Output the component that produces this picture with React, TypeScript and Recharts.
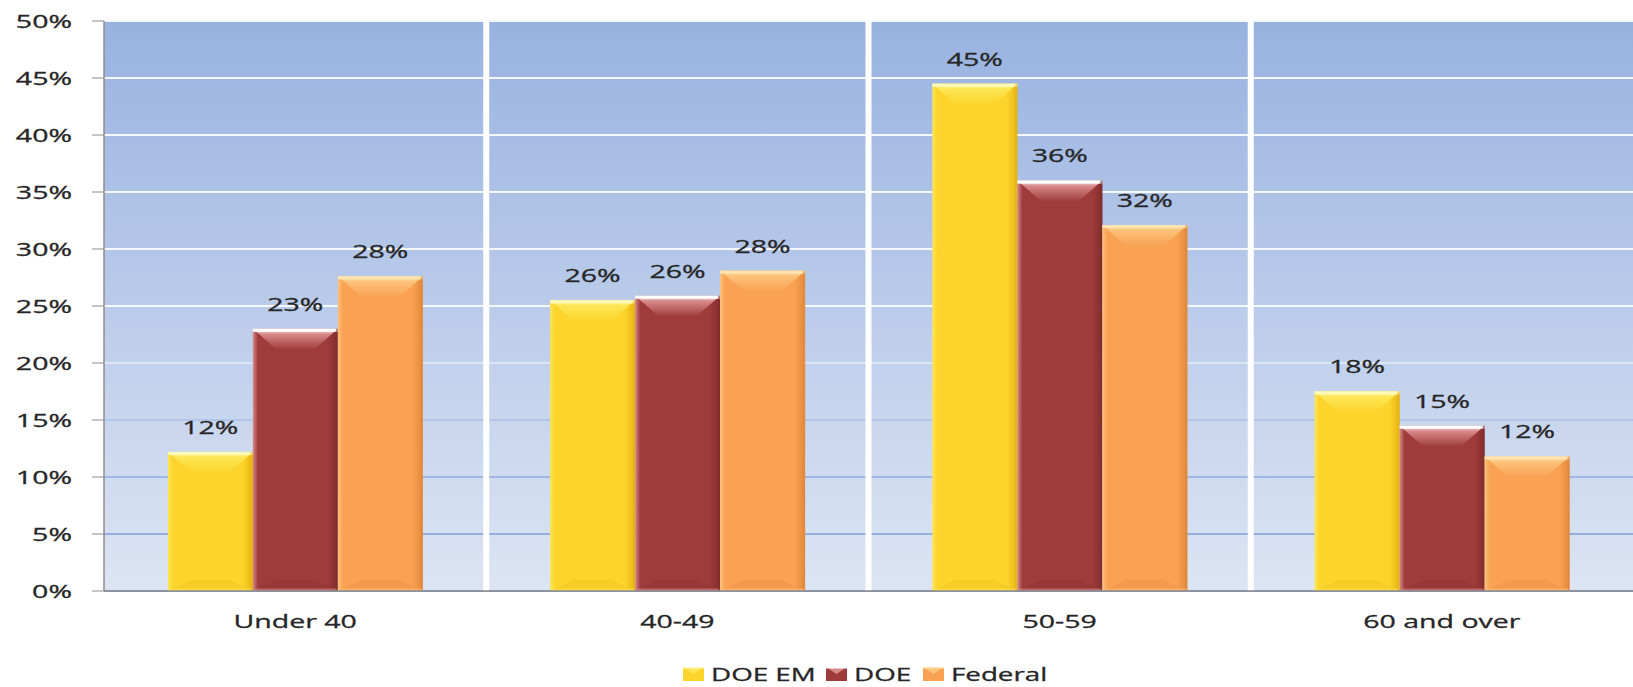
import React from "react";
import { BarChart, Bar, XAxis, YAxis, CartesianGrid, LabelList } from "recharts";

const categories = ["Under 40", "40-49", "50-59", "60 and over"];
const doeEm = [12.2, 25.5, 44.5, 17.5];
const doe = [23.0, 25.9, 36.0, 14.5];
const federal = [27.6, 28.1, 32.1, 11.8];
const yTicks = [0, 5, 10, 15, 20, 25, 30, 35, 40, 45, 50];
const seriesKeys = ["doeEm", "doe", "federal"];
const seriesNames = ["DOE EM", "DOE", "Federal"];

const data = categories.map((name, i) => ({
  name,
  doeEm: doeEm[i],
  doe: doe[i],
  federal: federal[i],
}));

const COLORS: Record<string, { body: string; light: string; mid: string; dark: string }> = {
  doeEm: { body: "#FCD42B", light: "#FFF9B8", mid: "#FDE655", dark: "#E6B412" },
  doe: { body: "#9E3B3B", light: "#FFFFFF", mid: "#D98A8A", dark: "#822D2D" },
  federal: { body: "#F9A253", light: "#FFE4B0", mid: "#FCC27A", dark: "#E2883A" },
};

const FONT = "'Open Sans', sans-serif";
const SX = 1.5; // the picture is stretched sideways
const AXIS = "#8c8c8c";
const TEXT = "#262626";
const W = 1633;
const H = 687;

function StretchText({ x, y, anchor, size = 19, children }: any) {
  return (
    <text
      transform={`translate(${x},${y}) scale(${SX},1)`}
      textAnchor={anchor}
      dy="0.36em"
      fontFamily={FONT}
      fontSize={size}
      fill={TEXT}
      stroke={TEXT}
      strokeWidth={0.3}
    >
      {children}
    </text>
  );
}

const YTick = ({ x, y, payload }: any) => (
  <StretchText x={x} y={y} anchor="end">
    {payload.value}%
  </StretchText>
);

const CatTick = ({ x, y, payload }: any) => (
  <StretchText x={x} y={y + 28} anchor="middle">
    {payload.value}
  </StretchText>
);

const ValueLabel = ({ x, y, width, value }: any) => (
  <StretchText x={x + width / 2} y={y - 25} anchor="middle">
    {Math.round(value)}%
  </StretchText>
);

const bevel = (key: string) => (props: any) => {
  const { x, y, width: w, height: h } = props;
  if (!h || h <= 0) return <g />;
  const c = COLORS[key];
  const bw = Math.min(w * 0.3, 24);
  const bh = Math.min(h / 2, 21);
  const bb = Math.min(h / 3, 11);
  return (
    <g>
      <rect x={x} y={y} width={w} height={h} fill={`url(#body-${key})`} />
      <polygon
        points={`${x},${y} ${x + w},${y} ${x + w - bw},${y + bh} ${x + bw},${y + bh}`}
        fill={`url(#top-${key})`}
      />
      <polygon
        points={`${x},${y + h} ${x + w},${y + h} ${x + w - bw},${y + h - bb} ${x + bw},${y + h - bb}`}
        fill={c.dark}
        opacity={0.25}
      />
      <rect x={x} y={y + h - 2.5} width={w} height={2.5} fill={c.mid} opacity={0.6} />
      <rect x={x} y={y} width={w} height={3} fill={c.light} />
      <rect x={x + w - 2} y={y} width={2} height={h} fill={c.dark} opacity={0.6} />
    </g>
  );
};

const LegendIcon = ({ x, y, k }: any) => {
  const c = COLORS[k];
  return (
    <g>
      <rect x={x} y={y - 7} width={21} height={14} fill={c.body} />
      <polygon points={`${x},${y - 7} ${x + 21},${y - 7} ${x + 10.5},${y}`} fill={c.mid} />
      <rect x={x} y={y - 7} width={21} height={1.5} fill={c.light} />
    </g>
  );
};

const legendX = [683, 826, 923];

export default function App() {
  const n = categories.length;
  return (
    <div style={{ position: "absolute", left: 0, top: 0, width: W, height: H, background: "#fff" }}>
      <BarChart
        width={W}
        height={H}
        data={data}
        margin={{ top: 21, right: 0, bottom: 0, left: 0 }}
        barCategoryGap="16.7%"
        barGap={0}
      >
        <defs>
          <linearGradient id="bgGrad" x1="0" y1="0" x2="0" y2="1">
            <stop offset="0%" stopColor="#98b2e0" />
            <stop offset="100%" stopColor="#dde5f4" />
          </linearGradient>
          <linearGradient id="gridGrad" gradientUnits="userSpaceOnUse" x1="0" y1="21" x2="0" y2="591">
            <stop offset="0%" stopColor="#f4f7fc" />
            <stop offset="55%" stopColor="#f4f7fc" />
            <stop offset="72%" stopColor="#a9bfe6" />
            <stop offset="100%" stopColor="#8aa5dc" />
          </linearGradient>
          {seriesKeys.map((k) => (
            <React.Fragment key={k}>
              <linearGradient id={`body-${k}`} x1="0" y1="0" x2="1" y2="0">
                <stop offset="0%" stopColor={COLORS[k].mid} />
                <stop offset="6%" stopColor={COLORS[k].body} />
                <stop offset="88%" stopColor={COLORS[k].body} />
                <stop offset="100%" stopColor={COLORS[k].dark} />
              </linearGradient>
              <linearGradient id={`top-${k}`} x1="0" y1="0" x2="0" y2="1">
                <stop offset="0%" stopColor={COLORS[k].light} />
                <stop offset="25%" stopColor={COLORS[k].mid} />
                <stop offset="100%" stopColor={COLORS[k].body} />
              </linearGradient>
            </React.Fragment>
          ))}
        </defs>
        <CartesianGrid
          vertical={false}
          stroke="url(#gridGrad)"
          strokeWidth={2}
          fill="url(#bgGrad)"
          fillOpacity={1}
        />
        <CartesianGrid
          horizontal={false}
          stroke="#ffffff"
          strokeWidth={6}
          verticalCoordinatesGenerator={({ offset }: any) =>
            categories.slice(1).map((_, i) => offset.left + (offset.width * (i + 1)) / n)
          }
        />
        <XAxis
          xAxisId={0}
          type="number"
          domain={[0, n]}
          ticks={[0, ...categories.map((_, i) => i + 1)]}
          tick={false}
          axisLine={false}
          tickLine={{ stroke: AXIS }}
          tickSize={8}
          height={0}
        />
        <XAxis
          xAxisId={1}
          dataKey="name"
          height={96}
          axisLine={{ stroke: AXIS, strokeWidth: 1.5 }}
          tickLine={false}
          tickSize={0}
          tick={<CatTick />}
          interval={0}
        />
        <YAxis
          domain={[0, 50]}
          ticks={yTicks}
          width={104}
          tickSize={12}
          tickMargin={20}
          interval={0}
          axisLine={{ stroke: AXIS, strokeWidth: 1.5 }}
          tickLine={{ stroke: AXIS }}
          tick={<YTick />}
        />
        {seriesKeys.map((k, i) => (
          <Bar
            key={k}
            xAxisId={1}
            dataKey={k}
            name={seriesNames[i]}
            fill={COLORS[k].body}
            shape={bevel(k)}
            isAnimationActive={false}
          >
            <LabelList dataKey={k} content={<ValueLabel />} />
          </Bar>
        ))}
      </BarChart>
      <svg
        width={W}
        height={35}
        style={{ position: "absolute", left: 0, top: 650 }}
      >
        {seriesKeys.map((k, i) => (
          <g key={k}>
            <LegendIcon x={legendX[i]} y={24} k={k} />
            <StretchText x={legendX[i] + 28} y={24} anchor="start" size={18.5}>
              {seriesNames[i]}
            </StretchText>
          </g>
        ))}
      </svg>
    </div>
  );
}
